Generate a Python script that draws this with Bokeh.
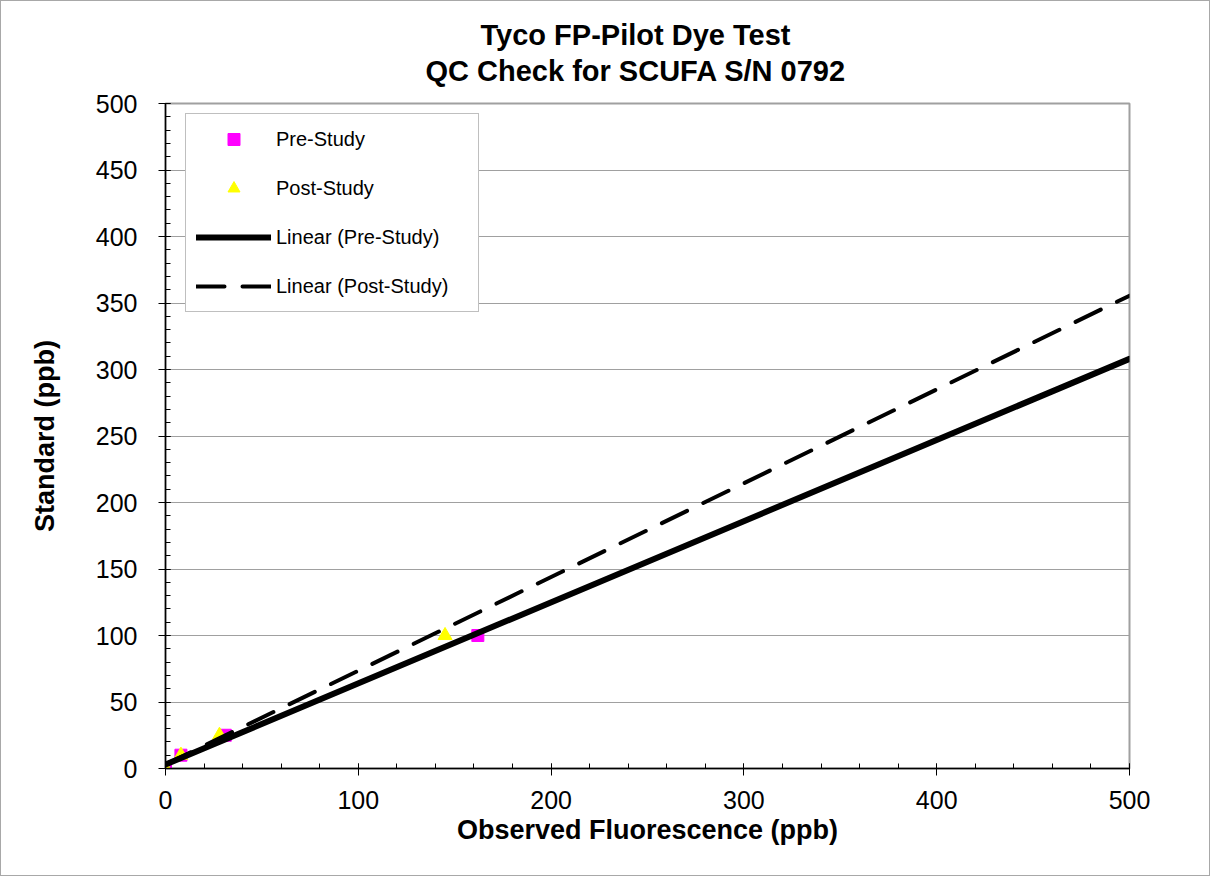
from bokeh.plotting import figure
from bokeh.models import (Title, Legend, LegendItem, Range1d, FixedTicker)
from bokeh.embed import file_html
from bokeh.resources import INLINE
import numpy as np

# ---- data ----
pre_x = [0, 8, 31, 162]
pre_y = [0, 10, 25, 100]
post_x = [0, 8, 28, 145]
post_y = [0, 10, 25, 100]
# Excel linear trendlines (slope, intercept) as drawn in the picture
trend_names = ["Linear (Pre-Study)", "Linear (Post-Study)"]
trend_slope = [0.61, 0.705]
trend_intercept = [3.0, 3.0]
x_ticks = [0, 100, 200, 300, 400, 500]
y_ticks = [0, 50, 100, 150, 200, 250, 300, 350, 400, 450, 500]
title_lines = ["Tyco FP-Pilot Dye Test", "QC Check for SCUFA S/N 0792"]

FONT = "Liberation Sans"
W, H = 1210, 876

p = figure(width=W, height=H, output_backend="svg", toolbar_location=None,
           title=None, x_range=Range1d(0, 500), y_range=Range1d(0, 500),
           min_border_left=164, min_border_right=82, min_border_top=102,
           min_border_bottom=109)
p.styles = {"border": "1px solid #a8a8a8"}

# two-line title (inner line added first, outer line second)
p.add_layout(Title(text=title_lines[1], align="left", offset=260,
                   text_font=FONT, text_font_size="29px", text_font_style="bold",
                   text_color="black", standoff=34), "above")
p.add_layout(Title(text=title_lines[0], align="left", offset=315,
                   text_font=FONT, text_font_size="29px", text_font_style="bold",
                   text_color="black", standoff=-30), "above")

p.outline_line_color = "#a0a0a0"
p.outline_line_width = 2
p.xgrid.grid_line_color = None
p.ygrid.grid_line_color = "#a0a0a0"
p.ygrid.grid_line_width = 1
p.ygrid.ticker = FixedTicker(ticks=y_ticks)

for ax in (p.xaxis[0], p.yaxis[0]):
    ax.axis_line_color = "black"
    ax.axis_line_width = 1.5
    ax.major_tick_line_color = "black"
    ax.minor_tick_line_color = "black"
    ax.major_tick_in = 5
    ax.major_tick_out = 7
    ax.minor_tick_in = 5
    ax.minor_tick_out = 0
    ax.major_label_text_font = FONT
    ax.major_label_text_font_size = "25px"
    ax.major_label_text_color = "black"
    ax.axis_label_text_font = FONT
    ax.axis_label_text_font_size = "27px"
    ax.axis_label_text_font_style = "bold"
    ax.axis_label_text_color = "black"

p.xaxis[0].ticker = FixedTicker(ticks=x_ticks, minor_ticks=list(range(0, 501, 20)))
p.yaxis[0].ticker = FixedTicker(ticks=y_ticks, minor_ticks=list(range(0, 501, 10)))
p.xaxis[0].axis_label = "Observed Fluorescence (ppb)"
p.yaxis[0].axis_label = "Standard (ppb)"
p.xaxis[0].major_label_standoff = 15
p.yaxis[0].major_label_standoff = 21
p.xaxis[0].axis_label_standoff = 3
p.yaxis[0].axis_label_standoff = 33

r_pre = p.scatter(pre_x, pre_y, marker="square", size=12, fill_color="#FF00FF",
                  line_color="#FF00FF")
r_post = p.scatter(post_x, post_y, marker="triangle", size=14, fill_color="#FFFF00",
                   line_color="#FFFF00")

xs = np.array([0.0, 500.0])
r_lin_pre = p.line(xs, trend_slope[0] * xs + trend_intercept[0], line_color="black",
                   line_width=6, line_cap="round")
r_lin_post = p.line(xs, trend_slope[1] * xs + trend_intercept[1], line_color="black",
                    line_width=4, line_dash="28 18", line_cap="round")

legend = Legend(items=[
    LegendItem(label="Pre-Study", renderers=[r_pre]),
    LegendItem(label="Post-Study", renderers=[r_post]),
    LegendItem(label=trend_names[0], renderers=[r_lin_pre]),
    LegendItem(label=trend_names[1], renderers=[r_lin_post]),
], location=(20, 456))
legend.label_text_font = FONT
legend.label_text_font_size = "20px"
legend.label_text_color = "black"
legend.glyph_height = 30
legend.glyph_width = 75
legend.label_height = 30
legend.label_width = 192
legend.spacing = 19
legend.padding = 10
legend.margin = 0
legend.label_standoff = 5
legend.border_line_color = "#808080"
legend.border_line_width = 1.5
legend.background_fill_color = "white"
legend.background_fill_alpha = 1.0
p.add_layout(legend, "center")

open("out.html", "w").write(file_html(p, INLINE))
